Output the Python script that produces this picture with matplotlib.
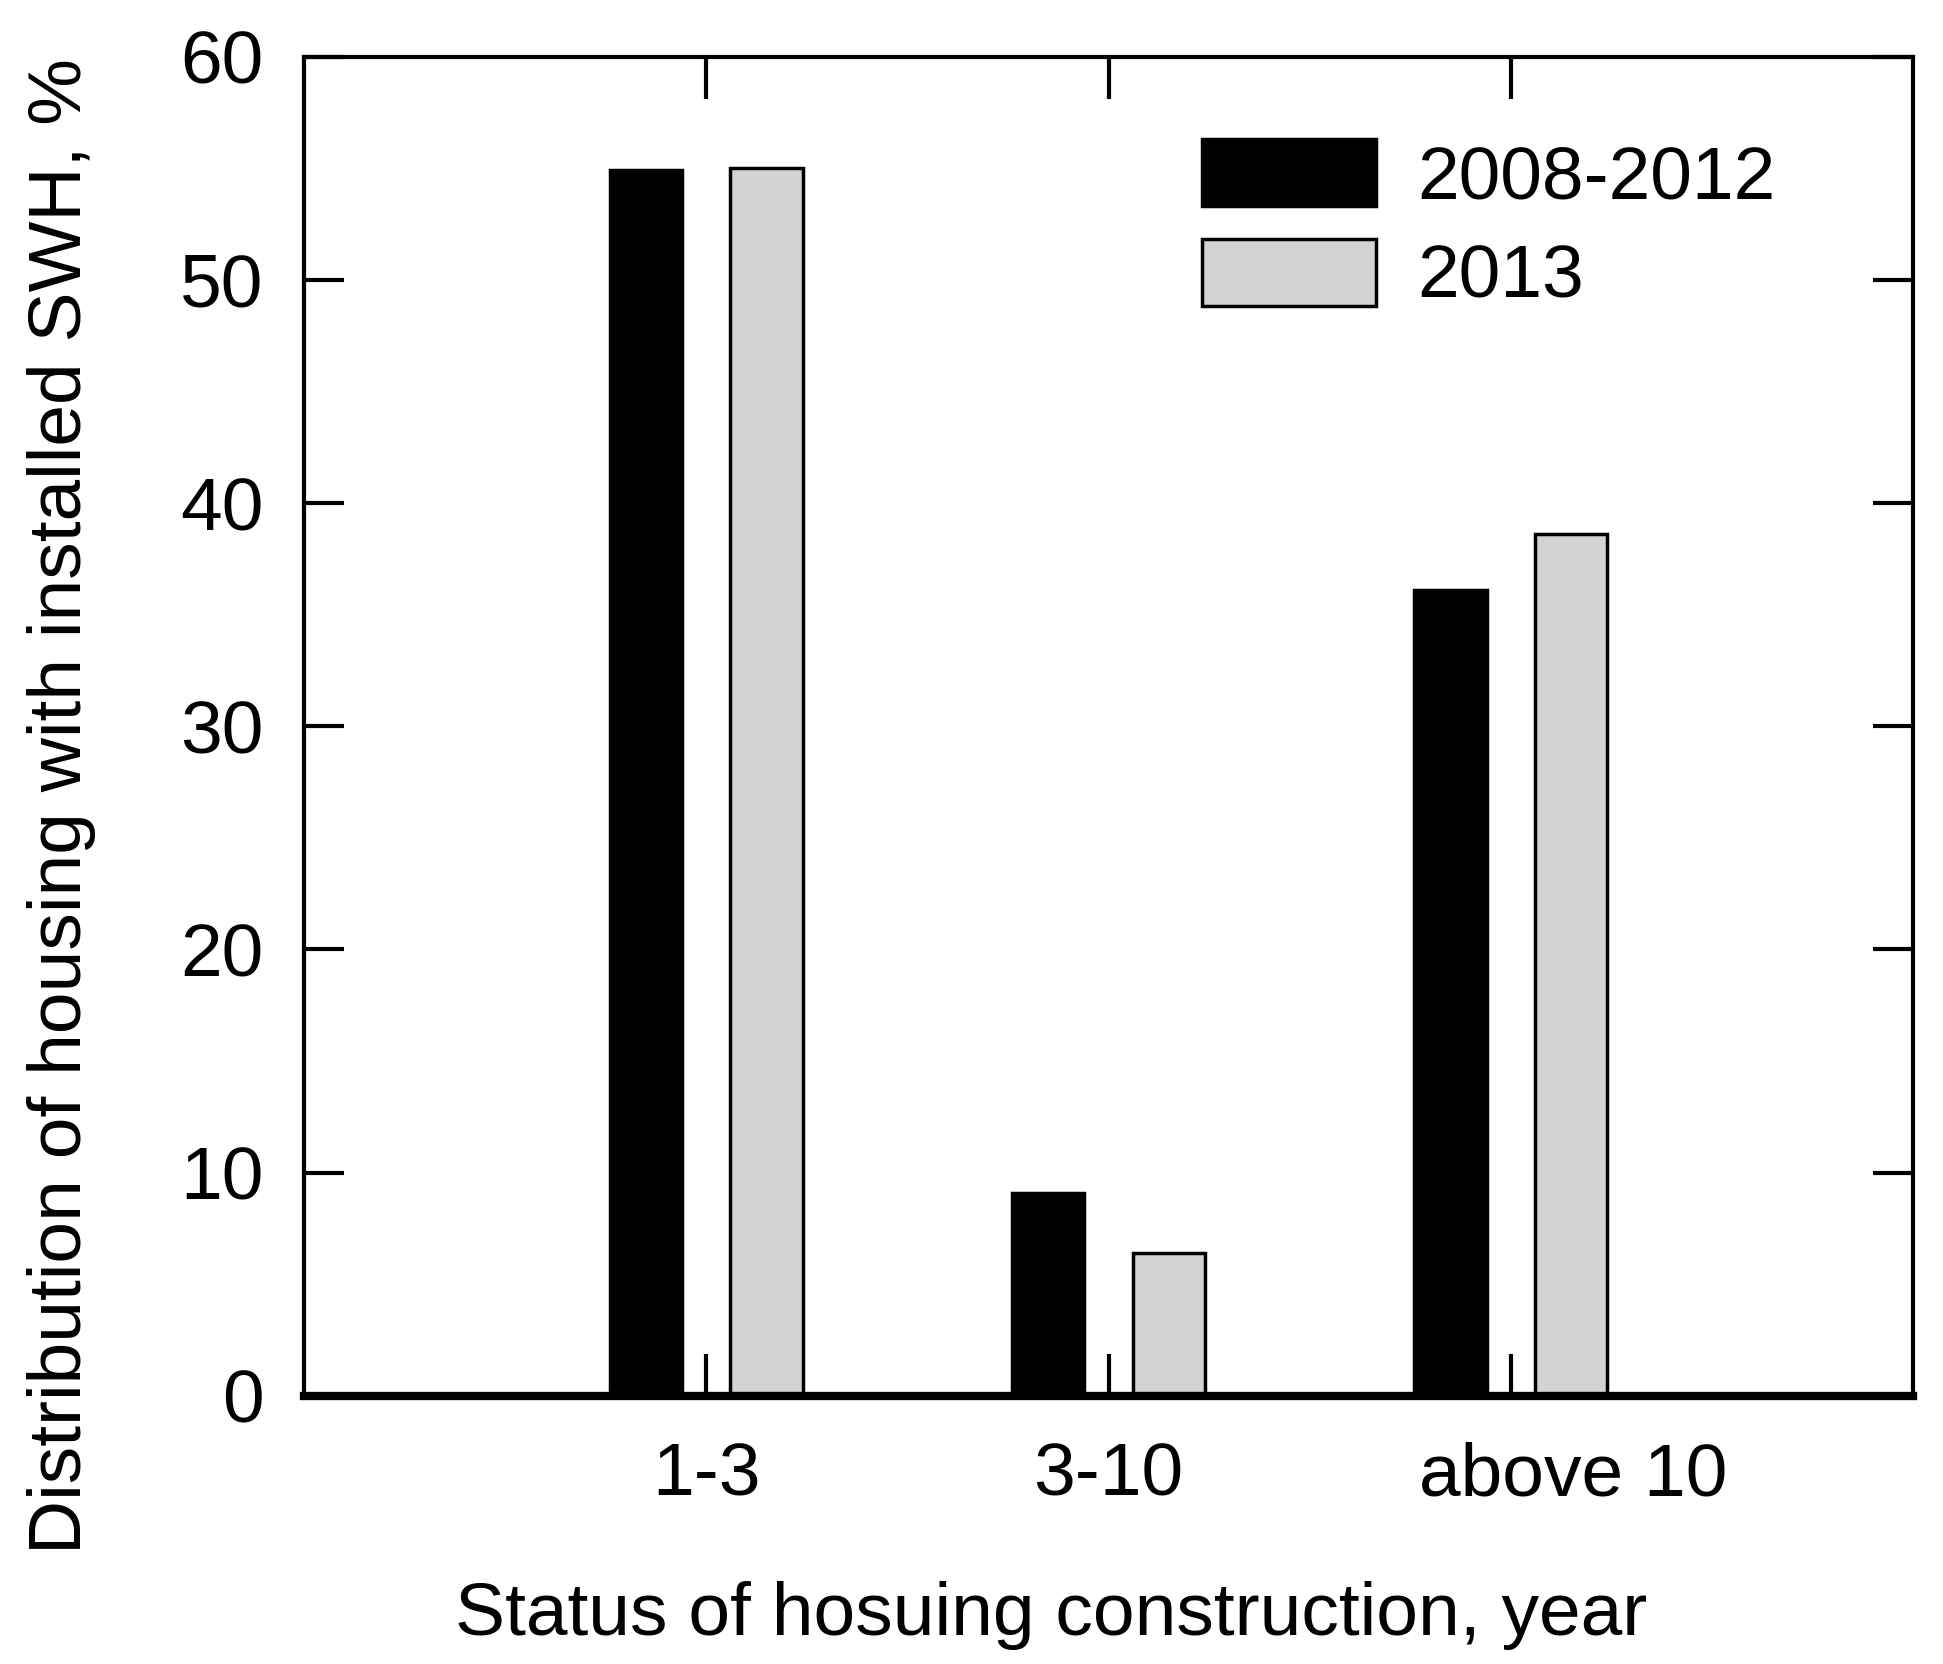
import matplotlib
matplotlib.use("Agg")
import matplotlib.pyplot as plt
import matplotlib.transforms as mtransforms
import numpy as np

categories = ["1-3", "3-10", "above 10"]
series_names = ["2008-2012", "2013"]
values_2008_2012 = [54.9, 9.1, 36.1]
values_2013 = [55.0, 6.4, 38.6]
y_ticks = [0, 10, 20, 30, 40, 50, 60]

plt.rcParams['font.family'] = ['Liberation Sans', 'DejaVu Sans']
FS = 54

fig = plt.figure(figsize=(19.43, 16.64), dpi=100)
ax = fig.add_axes([0.1565, 0.1611, 0.9846 - 0.1565, 0.9660 - 0.1611])

x = np.arange(1, len(categories) + 1)
off = 0.15
w = 0.18
b1 = ax.bar(x - off, values_2008_2012, width=w, color='black', edgecolor='black',
            linewidth=2.5, label=series_names[0], zorder=2)
b2 = ax.bar(x + off, values_2013, width=w, color='#d3d3d3', edgecolor='black',
            linewidth=2.5, label=series_names[1], zorder=2)

ax.set_xlim(0, 4)
ax.set_ylim(0, 60)
ax.set_yticks(y_ticks)
ax.set_yticklabels([str(t) for t in y_ticks])
ax.set_xticks(x)
ax.set_xticklabels(categories)

for s in ['left', 'right', 'top']:
    ax.spines[s].set_linewidth(3)
ax.spines['bottom'].set_linewidth(6)
ax.spines['bottom'].set_zorder(3)

ax.tick_params(axis='y', which='both', direction='in', left=True, right=True,
               length=29, width=3, labelsize=FS, pad=29)
ax.tick_params(axis='x', which='both', direction='in', top=True, bottom=True,
               length=30, width=3, labelsize=FS, pad=33)

# the last category label sits a little to the right of its tick in the original
lbl = ax.get_xticklabels()[-1]
lbl.set_transform(lbl.get_transform() +
                  mtransforms.ScaledTranslation(0.62, 0, fig.dpi_scale_trans))

ax.set_xlabel("Status of hosuing construction, year", fontsize=FS)
ax.xaxis.set_label_coords(0.4643, -0.1381)
ax.set_ylabel("Distribution of housing with installed SWH, %", fontsize=FS)
ax.yaxis.set_label_coords(-0.1293, 0.4405)

leg = ax.legend(handles=[b1, b2], labels=series_names, loc='upper left',
                bbox_to_anchor=(0.5578, 0.9385), frameon=False, fontsize=FS,
                handlelength=2.32, handleheight=1.0, handletextpad=0.56,
                labelspacing=0.34, borderpad=0, borderaxespad=0)

fig.savefig("out.png", dpi=100)
